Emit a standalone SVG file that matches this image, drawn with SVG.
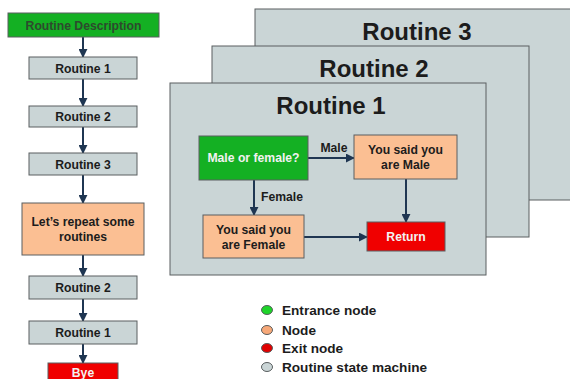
<svg xmlns="http://www.w3.org/2000/svg" width="570" height="379" viewBox="0 0 570 379">
<defs>
<style>
.box{stroke:#5a5f60;stroke-width:1}
.grn{fill:#14b023}
.gry{fill:#cad5d6}
.pch{fill:#fbbf93}
.red{fill:#f00000}
.t{font-family:"Liberation Sans",Arial,sans-serif;font-weight:bold;fill:#1c1c1c;text-anchor:middle}
.s{font-size:12.2px}
.big{font-size:24px}
.w{fill:#f2f2f2}
.edge{stroke:#1f3652;stroke-width:2;fill:none;marker-end:url(#ah)}
.leg{font-family:"Liberation Sans",Arial,sans-serif;font-weight:bold;font-size:13.6px;fill:#1c1c1c}
</style>
<marker id="ah" viewBox="0 0 10 10" refX="9" refY="5" markerWidth="4.5" markerHeight="4.5" orient="auto" markerUnits="strokeWidth">
<path d="M0,0 L10,5 L0,10 z" fill="#1f3652"/>
</marker>
</defs>
<rect width="570" height="379" fill="#ffffff"/>

<g id="connectors">
<line class="edge" x1="83" y1="37" x2="83" y2="57"/>
<line class="edge" x1="83" y1="79" x2="83" y2="106"/>
<line class="edge" x1="83" y1="127" x2="83" y2="153"/>
<line class="edge" x1="83" y1="175" x2="83" y2="203"/>
<line class="edge" x1="83" y1="255" x2="83" y2="276"/>
<line class="edge" x1="83" y1="299" x2="83" y2="321"/>
<line class="edge" x1="83" y1="344" x2="83" y2="363"/>
</g>

<g id="leftcol">
<g id="n-desc"><rect class="box grn" x="8" y="13" width="151" height="24"/><text class="t s" x="83.5" y="29.5" style="fill:#2d4a2d">Routine Description</text></g>
<g id="n-r1a"><rect class="box gry" x="29" y="57" width="108" height="22"/><text class="t s" x="83" y="72.5">Routine 1</text></g>
<g id="n-r2a"><rect class="box gry" x="29" y="106" width="108" height="21"/><text class="t s" x="83" y="121">Routine 2</text></g>
<g id="n-r3a"><rect class="box gry" x="29" y="153" width="108" height="22"/><text class="t s" x="83" y="168.5">Routine 3</text></g>
<g id="n-repeat"><rect class="box pch" x="22" y="203" width="122" height="52"/><text class="t s" x="83" y="226">Let’s repeat some</text><text class="t s" x="83" y="241">routines</text></g>
<g id="n-r2b"><rect class="box gry" x="29" y="276" width="108" height="23"/><text class="t s" x="83" y="292">Routine 2</text></g>
<g id="n-r1b"><rect class="box gry" x="29" y="321" width="108" height="23"/><text class="t s" x="83" y="337">Routine 1</text></g>
<g id="n-bye"><rect class="box red" x="48" y="363" width="70" height="22"/><text class="t s w" x="83" y="376.5">Bye</text></g>
</g>

<g id="panel3"><rect class="box gry" x="255" y="9" width="320" height="191"/><text class="t big" x="417" y="40">Routine 3</text></g>
<g id="panel2"><rect class="box gry" x="212" y="46" width="317" height="191"/><text class="t big" x="374" y="77">Routine 2</text></g>
<g id="panel1"><rect class="box gry" x="170" y="83" width="316" height="192"/><text class="t big" x="331" y="114">Routine 1</text></g>

<g id="inner-connectors">
<line class="edge" x1="308" y1="158" x2="354" y2="158"/>
<line class="edge" x1="254" y1="180" x2="254" y2="215"/>
<line class="edge" x1="406" y1="179" x2="406" y2="222"/>
<line class="edge" x1="304" y1="237" x2="367" y2="237"/>
<text class="t s" x="334" y="152">Male</text>
<text class="t s" x="282" y="201">Female</text>
</g>

<g id="n-mof"><rect class="box grn" x="199" y="136" width="109" height="44"/><text class="t s w" x="253.5" y="162">Male or female?</text></g>
<g id="n-male"><rect class="box pch" x="354" y="135" width="103" height="44"/><text class="t s" x="405.5" y="154">You said you</text><text class="t s" x="405.5" y="169">are Male</text></g>
<g id="n-female"><rect class="box pch" x="203" y="215" width="101" height="43"/><text class="t s" x="253.5" y="234">You said you</text><text class="t s" x="253.5" y="249">are Female</text></g>
<g id="n-return"><rect class="box red" x="367" y="222" width="78" height="29"/><text class="t s w" x="406" y="241">Return</text></g>

<g id="legend">
<ellipse cx="267" cy="310" rx="5.5" ry="4.5" fill="#1ed42a" stroke="#5a5f60" stroke-width="1"/>
<text class="leg" x="282" y="315">Entrance node</text>
<ellipse cx="267" cy="330" rx="5.5" ry="4.5" fill="#f7a878" stroke="#5a5f60" stroke-width="1"/>
<text class="leg" x="282" y="335">Node</text>
<ellipse cx="267" cy="348" rx="5.5" ry="4.5" fill="#e00000" stroke="#5a5f60" stroke-width="1"/>
<text class="leg" x="282" y="353">Exit node</text>
<ellipse cx="267" cy="367" rx="5.5" ry="4.5" fill="#cad5d6" stroke="#5a5f60" stroke-width="1"/>
<text class="leg" x="282" y="372">Routine state machine</text>
</g>
</svg>
